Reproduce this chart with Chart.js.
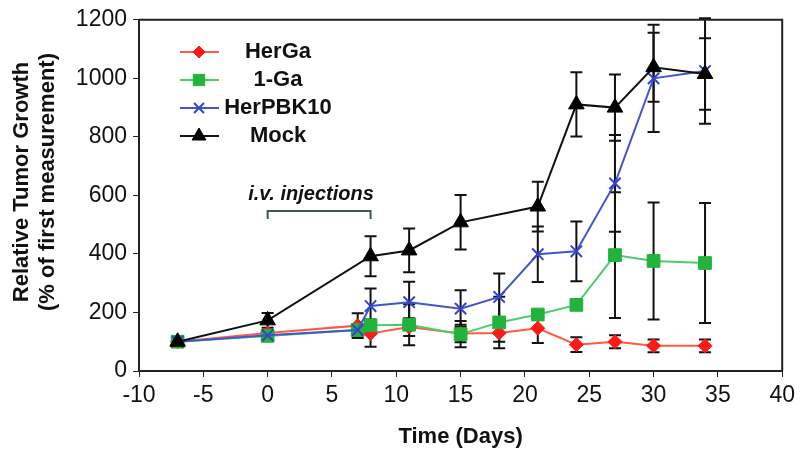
<!DOCTYPE html>
<html>
<head>
<meta charset="utf-8">
<script src="https://cdn.jsdelivr.net/npm/chart.js@4/dist/chart.umd.min.js"></script>
<style>
  html, body { margin: 0; padding: 0; background: #fff; }
  #wrap { width: 800px; height: 457px; }
</style>
</head>
<body>
<div id="wrap"><canvas id="grafica"></canvas></div>
<script>
// Datos (días y % de la primera medición)
const dias = [-7, 0, 7, 8, 11, 15, 18, 21, 24, 27, 30, 34];
const diasMock = [-7, 0, 8, 11, 15, 21, 24, 27, 30, 34];

const herGa = [100, 130, 155, 128, 150, 128, 130, 146, 90, 100, 86, 86];
const herGaErr = [5, 10, 42, 45, 30, 30, 30, 50, 25, 22, 22, 22];

const oneGa = [100, 120, 140, 156, 158, 126, 166, 193, 226, 396, 376, 369];
const oneGaErr = [5, 10, 20, 20, 70, 45, 88, 15, 15, 215, 200, 205];

const herPBK10 = [100, 122, 140, 222, 235, 213, 253, 399, 409, 641, 1000, 1025];
const herPBK10Err = [5, 10, 20, 60, 70, 63, 80, 95, 102, 165, 183, 180];

const mock = [100, 173, 392, 412, 508, 562, 911, 900, 1038, 1015];
const mockErr = [8, 25, 68, 75, 93, 85, 110, 113, 118, 122];

const ticksX = [-10, -5, 0, 5, 10, 15, 20, 25, 30, 35, 40];
const ticksY = [0, 200, 400, 600, 800, 1000, 1200];

// Convierte arreglos en puntos {x, y, e}
function puntos(xs, ys, es) {
    return xs.map((x, i) => ({ x: x, y: ys[i], e: es[i] }));
}

// Barras de error dibujadas con las escalas de la gráfica
const barrasError = {
    id: 'barrasError',
    beforeDatasetsDraw(chart) {
        const ctx = chart.ctx;
        const sx = chart.scales.x, sy = chart.scales.y;
        ctx.save();
        ctx.strokeStyle = '#111';
        ctx.lineWidth = 2;
        chart.data.datasets.forEach(ds => {
            ds.data.forEach(p => {
                const px = sx.getPixelForValue(p.x);
                const top = sy.getPixelForValue(p.y + p.e);
                const bot = sy.getPixelForValue(p.y - p.e);
                ctx.beginPath();
                ctx.moveTo(px, top); ctx.lineTo(px, bot);
                ctx.moveTo(px - 6, top); ctx.lineTo(px + 6, top);
                ctx.moveTo(px - 6, bot); ctx.lineTo(px + 6, bot);
                ctx.stroke();
            });
        });
        ctx.restore();
    }
};

// Marco, títulos de ejes, leyenda y anotación
const decoracion = {
    id: 'decoracion',
    afterDraw(chart) {
        const ctx = chart.ctx;
        const a = chart.chartArea;
        const sx = chart.scales.x;
        ctx.save();
        ctx.strokeStyle = '#222';
        ctx.lineWidth = 2;
        ctx.beginPath();
        ctx.moveTo(a.left, a.top); ctx.lineTo(a.right, a.top); ctx.lineTo(a.right, a.bottom);
        ctx.stroke();

        // títulos
        ctx.fillStyle = '#111';
        ctx.font = 'bold 22px "Liberation Sans", Arial, sans-serif';
        ctx.textAlign = 'center';
        ctx.textBaseline = 'middle';
        ctx.fillText('Time (Days)', sx.getPixelForValue(15), 437);
        ctx.save();
        ctx.translate(22, 182);
        ctx.rotate(-Math.PI / 2);
        ctx.fillText('Relative Tumor Growth', 0, 0);
        ctx.fillText('(% of first measurement)', 0, 26);
        ctx.restore();

        // leyenda
        const items = ['HerGa', '1-Ga', 'HerPBK10', 'Mock'];
        items.forEach((t, i) => {
            const d = chart.data.datasets[i];
            const y = 52 + i * 28;
            ctx.strokeStyle = d.borderColor;
            ctx.lineWidth = 2;
            ctx.beginPath(); ctx.moveTo(180, y); ctx.lineTo(219, y); ctx.stroke();
            ctx.fillStyle = d.pointBackgroundColor;
            ctx.strokeStyle = d.pointBorderColor;
            ctx.lineWidth = d.pointBorderWidth;
            Chart.helpers.drawPoint(ctx, {
                pointStyle: d.pointStyle, radius: d.pointRadius - 1, borderWidth: d.pointBorderWidth
            }, 199, y);
            ctx.fillStyle = '#111';
            ctx.font = 'bold 22px "Liberation Sans", Arial, sans-serif';
            ctx.textAlign = 'center';
            ctx.fillText(t, 278, y);
        });

        // anotación de inyecciones
        const x0 = sx.getPixelForValue(0), x8 = sx.getPixelForValue(8);
        ctx.font = 'italic bold 20px "Liberation Sans", Arial, sans-serif';
        ctx.fillStyle = '#111';
        ctx.textAlign = 'center';
        ctx.fillText('i.v. injections', 311, 194);
        ctx.strokeStyle = '#3d5a4e';
        ctx.lineWidth = 2;
        ctx.beginPath();
        ctx.moveTo(x0, 219); ctx.lineTo(x0, 211); ctx.lineTo(x8, 211); ctx.lineTo(x8, 219);
        ctx.stroke();
        ctx.restore();
    }
};

const ctx = document.getElementById('grafica').getContext('2d');
new Chart(ctx, {
    type: 'line',
    data: {
        datasets: [
            {
                label: 'HerGa',
                data: puntos(dias, herGa, herGaErr),
                borderColor: '#ff5a40',
                borderWidth: 2,
                pointStyle: 'rectRot',
                pointRadius: 7,
                pointBorderWidth: 1,
                pointBackgroundColor: '#ff1a1a',
                pointBorderColor: '#ff1a1a',
                order: 3
            },
            {
                label: '1-Ga',
                data: puntos(dias, oneGa, oneGaErr),
                borderColor: '#4ccc6a',
                borderWidth: 2,
                pointStyle: 'rect',
                pointRadius: 9,
                pointBorderWidth: 1,
                pointBackgroundColor: '#22b33c',
                pointBorderColor: '#22b33c',
                order: 2
            },
            {
                label: 'HerPBK10',
                data: puntos(dias, herPBK10, herPBK10Err),
                borderColor: '#4455cc',
                borderWidth: 2,
                pointStyle: 'crossRot',
                pointRadius: 8,
                pointBorderWidth: 2,
                pointBackgroundColor: '#3344cc',
                pointBorderColor: '#3344cc',
                order: 1
            },
            {
                label: 'Mock',
                data: puntos(diasMock, mock, mockErr),
                borderColor: '#111',
                borderWidth: 2,
                pointStyle: 'triangle',
                pointRadius: 9,
                pointBorderWidth: 1,
                pointBackgroundColor: '#000',
                pointBorderColor: '#000',
                order: 0
            }
        ]
    },
    options: {
        responsive: true,
        maintainAspectRatio: false,
        animation: false,
        layout: { padding: { left: 0, right: 17, top: 10, bottom: 0 } },
        plugins: { legend: { display: false }, tooltip: { enabled: false } },
        scales: {
            x: {
                type: 'linear',
                min: -10, max: 40,
                afterBuildTicks: s => { s.ticks = ticksX.map(v => ({ value: v })); },
                afterFit: s => { s.height = 86; },
                border: { color: '#222', width: 2 },
                grid: { drawOnChartArea: false, drawTicks: true, tickLength: 6, color: '#222' },
                ticks: {
                    color: '#111', padding: 5, maxRotation: 0,
                    callback: v => String(v),
                    font: { family: '"Liberation Sans", Arial, sans-serif', size: 23 }
                }
            },
            y: {
                min: 0, max: 1200,
                afterBuildTicks: s => { s.ticks = ticksY.map(v => ({ value: v })); },
                afterFit: s => { s.width = 139; },
                border: { color: '#222', width: 2 },
                grid: { drawOnChartArea: false, drawTicks: true, tickLength: 6, color: '#222' },
                ticks: {
                    color: '#111', padding: 6,
                    callback: v => String(v),
                    font: { family: '"Liberation Sans", Arial, sans-serif', size: 23 }
                }
            }
        }
    },
    plugins: [barrasError, decoracion]
});
</script>
</body>
</html>
